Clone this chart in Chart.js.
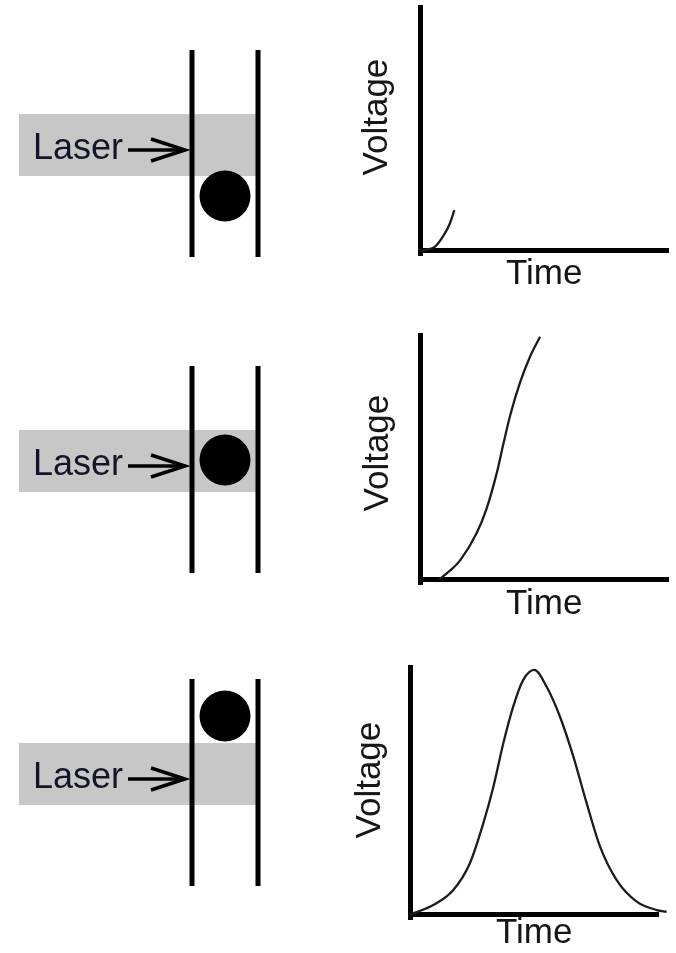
<!DOCTYPE html>
<html>
<head>
<meta charset="utf-8">
<script src="https://cdn.jsdelivr.net/npm/chart.js@4.4.1/dist/chart.umd.min.js"></script>
<style>
  body { margin: 0; background: #fff; }
  #page { position: relative; width: 676px; height: 953px; overflow: hidden; }
  canvas { position: absolute; }
</style>
</head>
<body>
<div id="page">
  <canvas id="cell1" width="300" height="300" style="left:0;top:-5px"></canvas>
  <canvas id="cell2" width="300" height="300" style="left:0;top:311px"></canvas>
  <canvas id="cell3" width="300" height="300" style="left:0;top:624px"></canvas>
  <canvas id="trace1" width="336" height="300" style="left:340px;top:0"></canvas>
  <canvas id="trace2" width="336" height="312" style="left:340px;top:318px"></canvas>
  <canvas id="trace3" width="336" height="313" style="left:340px;top:640px"></canvas>
</div>
<script>
// flow cell sketch, y measured from the beam axis (up is positive)
const wallX = [192, 258];
const wallY = [95, -112];
const beamX = [19, 258];
const beamHalf = 31;
const particleX = 225;
const particleY = [-51, 1, 58];   // particle below, inside, above the beam
const shaftX = [128, 184];
const headX = [151, 185];
const arrowY = -5;
const headHalf = 11;
const laserText = 'Laser';

// detector traces, time and voltage in % of the axis
const time1 = [0, 2, 5.9, 9.9, 11.9, 13.7];
const volt1 = [0, 0.3, 1.6, 7.1, 11.2, 16.6];
const time2 = [7.5, 11.9, 16.0, 22.7, 26.7, 30.8, 33.5, 36.2, 40.2, 44.2, 48.3];
const volt2 = [0, 3.6, 7.8, 19.0, 29.0, 43.5, 55.5, 67.0, 80.5, 91.0, 99.3];
const time3 = [0, 9.2, 17.3, 24.0, 29.4, 33.5, 37.5, 41.5, 45.5, 50.0, 55.0, 60.4, 65.8, 71.2, 76.6, 83.3, 91.4, 99.5, 103.5];
const volt3 = [0, 3.8, 9.9, 20.7, 36.8, 51.6, 69.2, 84.0, 94.7, 98.8, 92.0, 79.9, 63.8, 44.9, 27.4, 13.9, 5.2, 1.8, 1.1];

const FONT = '"Liberation Sans", Arial, sans-serif';
const INK = '#161616';

const laserLabel = {
  id: 'laserLabel',
  afterDatasetsDraw(chart, args, opts) {
    const { ctx, scales } = chart;
    ctx.save();
    ctx.font = '36px ' + FONT;
    ctx.fillStyle = '#15152a';
    ctx.textAlign = 'left';
    ctx.textBaseline = 'alphabetic';
    ctx.fillText(opts.text, scales.x.getPixelForValue(opts.x), scales.y.getPixelForValue(opts.y));
    ctx.restore();
  }
};

// rotated y label, placed at a voltage level beside the axis
const sideLabel = {
  id: 'sideLabel',
  afterDraw(chart, args, opts) {
    const { ctx, chartArea, scales } = chart;
    ctx.save();
    ctx.translate(chartArea.left - opts.gap, scales.y.getPixelForValue(opts.at));
    ctx.rotate(-Math.PI / 2);
    ctx.font = '35px ' + FONT;
    ctx.fillStyle = INK;
    ctx.textAlign = 'center';
    ctx.textBaseline = 'middle';
    ctx.fillText(opts.text, 0, 0);
    ctx.restore();
  }
};

function seg(xs, ys) {
  return xs.map((x, i) => ({ x: x, y: ys[i] }));
}

function drawCell(id, py) {
  const line = (data, width, order) => ({
    data: data, borderColor: '#000', borderWidth: width, pointRadius: 0,
    borderCapStyle: 'butt', borderJoinStyle: 'miter', order: order
  });
  new Chart(document.getElementById(id), {
    type: 'line',
    data: {
      datasets: [
        { data: seg(beamX, [beamHalf, beamHalf]), borderColor: 'rgba(0,0,0,0)', borderWidth: 0,
          pointRadius: 0, backgroundColor: '#c7c7c7', fill: '+1', order: 9 },
        { data: seg(beamX, [-beamHalf, -beamHalf]), borderColor: 'rgba(0,0,0,0)', borderWidth: 0,
          pointRadius: 0, fill: false, order: 8 },
        line(seg([wallX[0], wallX[0]], wallY), 5, 4),
        line(seg([wallX[1], wallX[1]], wallY), 5, 4),
        { data: [{ x: particleX, y: py }], showLine: false, pointRadius: 25.5, pointBorderWidth: 0,
          pointBackgroundColor: '#000', order: 3 },
        line(seg(shaftX, [arrowY, arrowY]), 3.5, 2),
        line(seg([headX[0], headX[1], headX[0]], [arrowY + headHalf, arrowY, arrowY - headHalf]), 3.5, 1)
      ]
    },
    options: {
      responsive: false,
      animation: false,
      events: [],
      layout: { padding: 0, autoPadding: false },
      scales: {
        x: { type: 'linear', min: 0, max: 300, display: false },
        y: { type: 'linear', min: -150, max: 150, display: false }
      },
      plugins: {
        legend: { display: false },
        tooltip: { enabled: false },
        laserLabel: { text: laserText, x: 33, y: -14 }
      }
    },
    plugins: [laserLabel]
  });
}

function drawTrace(id, times, volts, pad, xTitlePad, label) {
  const titleFont = { family: FONT, size: 35, lineHeight: 1 };
  new Chart(document.getElementById(id), {
    type: 'line',
    data: {
      datasets: [{
        data: seg(times, volts),
        borderColor: '#1c1c1c',
        borderWidth: 2.3,
        pointRadius: 0,
        cubicInterpolationMode: 'monotone',
        clip: false
      }]
    },
    options: {
      responsive: false,
      animation: false,
      events: [],
      layout: { padding: pad, autoPadding: false },
      scales: {
        x: {
          type: 'linear', min: 0, max: 100,
          grid: { display: false, drawTicks: false },
          ticks: { display: false },
          border: { display: true, color: '#000', width: 5 },
          title: { display: true, text: 'Time', color: INK, font: titleFont, padding: { top: xTitlePad, bottom: 0 } }
        },
        y: {
          type: 'linear', min: 0, max: 100,
          grid: { display: false, drawTicks: false, lineWidth: 10 },
          ticks: { display: false },
          border: { display: true, color: '#000', width: 5 }
        }
      },
      plugins: {
        legend: { display: false },
        tooltip: { enabled: false },
        sideLabel: label
      }
    },
    plugins: [sideLabel]
  });
}

drawCell('cell1', particleY[0]);
drawCell('cell2', particleY[1]);
drawCell('cell3', particleY[2]);

drawTrace('trace1', time1, volt1, { left: 80.5, right: 8, top: 7, bottom: 8.5 }, 6,
  { text: 'Voltage', at: 54.8, gap: 43.5 });
drawTrace('trace2', time2, volt2, { left: 80.5, right: 8, top: 17, bottom: 8.5 }, 7,
  { text: 'Voltage', at: 51.7, gap: 42.5 });
drawTrace('trace3', time3, volt3, { left: 70.5, right: 18, top: 27, bottom: 2.5 }, 1,
  { text: 'Voltage', at: 54.3, gap: 40.5 });
</script>
</body>
</html>
